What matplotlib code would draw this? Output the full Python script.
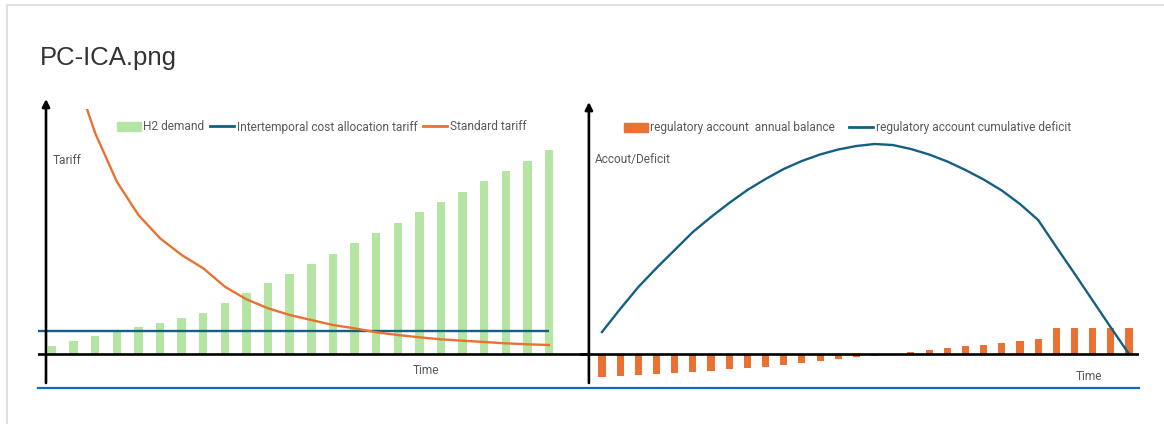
import matplotlib
matplotlib.use("Agg")
import numpy as np
import matplotlib.pyplot as plt
from matplotlib.lines import Line2D
from matplotlib.patches import Patch

# H2 demand and tariffs over time (arbitrary units)
h2_demand = [8, 13, 18, 22.7, 27.3, 31.4, 35.8, 41, 51, 61, 71, 80.5,
             90.5, 100, 111, 121, 131, 142, 152, 162, 173, 183, 193, 204]
standard_tariff = [400, 284, 220.7, 172.3, 139, 115.7, 99, 85.7, 67.3, 54.7,
                   45.7, 39, 34, 29, 25.7, 21.7, 19, 16.7, 14.7, 13.3, 12,
                   10.7, 9.7, 9]
ica_tariff = 23

# regulatory account
annual_balance = [-23, -22.3, -21.3, -20, -18.7, -18, -16.7, -15.3, -14,
                  -12.7, -11, -9, -7, -5, -3.3, -1.7, 0, 2, 4, 6, 8, 9.3,
                  11.3, 13.3, 15.3, 26.3, 26.3, 26.3, 26.3, 26.3]
cumulative_deficit = [22, 45, 67, 86, 104, 122, 137, 151, 164, 175, 185, 193,
                      199.5, 204.5, 208, 210, 209, 205, 199.5, 192.5, 184,
                      174.5, 163.5, 150, 134, 107, 80.5, 53.5, 26.5, 0]

GREEN = "#B4E5A2"
BLUE = "#156082"
ORANGE = "#E97132"
TEXT = "#595959"
FONT = "Roboto"
FS = 8.6

W, H = 1164, 424
fig = plt.figure(figsize=(W / 100, H / 100), dpi=100)


def box(x0, y0, x1, y1):
    return [x0 / W, 1 - y1 / H, (x1 - x0) / W, (y1 - y0) / H]


def fx(x):
    return x / W


def fy(y):
    return 1 - y / H


# card frame
fig.add_artist(Line2D([fx(7), 1], [fy(5), fy(5)], color="#e1e1e1", lw=1.5))
fig.add_artist(Line2D([fx(7), fx(7)], [fy(5), 0], color="#e1e1e1", lw=1.5))
fig.text(fx(40), fy(65), "PC-ICA.png", fontsize=18.5, color="#333333",
         family="Liberation Sans", va="baseline")


def axis_arrows(ax, yx, top):
    ax.axhline(0, color="black", lw=1.9, zorder=5)
    ax.annotate("", xy=(yx, top), xytext=(yx, ax.get_ylim()[0] + 1),
                arrowprops=dict(arrowstyle="-|>", color="black", lw=1.9,
                                mutation_scale=11, shrinkA=0, shrinkB=0),
                annotation_clip=False, zorder=6)
    ax.axis("off")


def label(x, y, s):
    fig.text(fx(x), fy(y), s, fontsize=FS, color=TEXT, family=FONT,
             va="center")


# left: tariffs
ax1 = fig.add_axes(box(38, 109, 590, 384))
x1 = np.arange(len(h2_demand))
ax1.set_xlim(-0.65, 24.9)
ax1.set_ylim(-30, 245)
ax1.bar(x1, h2_demand, width=0.39, color=GREEN, zorder=2)
ax1.hlines(ica_tariff, -0.65, x1[-1], color=BLUE, lw=1.7, zorder=3)
ax1.plot(x1, standard_tariff, color=ORANGE, lw=1.7, zorder=4)
axis_arrows(ax1, -0.28, 255)

ax1.legend(handles=[Patch(color=GREEN, label="H2 demand"),
                    Line2D([], [], color=BLUE, lw=2,
                           label="Intertemporal cost allocation tariff"),
                    Line2D([], [], color=ORANGE, lw=2, label="Standard tariff")],
           ncol=3, loc="center left", bbox_to_anchor=(fx(117), fy(127)),
           bbox_transform=fig.transFigure, frameon=False, borderpad=0,
           borderaxespad=0, handlelength=2.0, handletextpad=0.2,
           columnspacing=0.5, labelcolor=TEXT,
           prop=dict(family=FONT, size=FS))
label(53, 161, "Tariff")
label(413, 371, "Time")

# right: regulatory account
ax2 = fig.add_axes(box(580, 100, 1139, 384))
x2 = np.arange(len(annual_balance))
ax2.set_xlim(-1.21, 29.55)
ax2.set_ylim(-30, 254)
ax2.bar(x2, annual_balance, width=0.39, color=ORANGE, zorder=2)
ax2.plot(x2, cumulative_deficit, color=BLUE, lw=1.7, zorder=4)
axis_arrows(ax2, -0.72, 252)

ax2.legend(handles=[Patch(color=ORANGE,
                          label="regulatory account  annual balance"),
                    Line2D([], [], color=BLUE, lw=2,
                           label="regulatory account cumulative deficit")],
           ncol=2, loc="center left", bbox_to_anchor=(fx(624), fy(128)),
           bbox_transform=fig.transFigure, frameon=False, borderpad=0,
           borderaxespad=0, handlelength=2.0, handletextpad=0.2,
           columnspacing=1.2, labelcolor=TEXT,
           prop=dict(family=FONT, size=FS))
label(595, 160, "Accout/Deficit")
label(1076, 376, "Time")

# separator under the charts
fig.add_artist(Line2D([fx(38), fx(1139)], [fy(388), fy(388)],
                      color="#0F6CBD", lw=1.6))

fig.savefig("out.png", dpi=100)
